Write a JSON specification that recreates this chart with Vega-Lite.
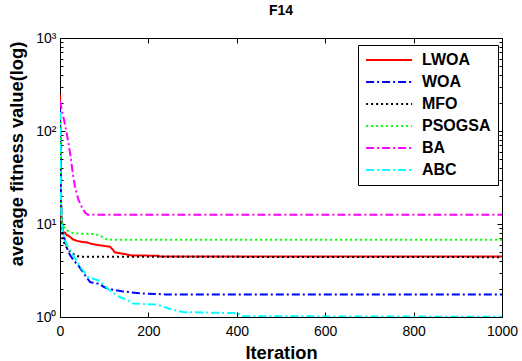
{
  "$schema": "https://vega.github.io/schema/vega-lite/v6.json",
  "autosize": "none",
  "width": 442,
  "height": 279,
  "padding": {"left": 60, "top": 38, "right": 20, "bottom": 44},
  "background": "white",
  "config": {
    "font": "Liberation Sans",
    "view": {"stroke": "black", "strokeWidth": 1},
    "axis": {"grid": false, "domainColor": "black", "tickColor": "black", "labelColor": "black", "titleColor": "black", "labelFont": "Liberation Sans", "titleFont": "Liberation Sans"}
  },
  "title": {"text": "F14", "fontSize": 14, "fontWeight": "bold", "font": "Liberation Sans", "offset": 13, "color": "black"},
  "data": {"values": [
    {"it": 0, "v": 247, "algo": "LWOA"}, {"it": 1, "v": 60, "algo": "LWOA"}, {"it": 2, "v": 20, "algo": "LWOA"}, {"it": 3, "v": 12, "algo": "LWOA"}, {"it": 5, "v": 9, "algo": "LWOA"}, {"it": 7, "v": 8.2, "algo": "LWOA"}, {"it": 11, "v": 8.1, "algo": "LWOA"}, {"it": 15, "v": 7.6, "algo": "LWOA"}, {"it": 19, "v": 7.5, "algo": "LWOA"}, {"it": 30, "v": 6.8, "algo": "LWOA"}, {"it": 38, "v": 6.6, "algo": "LWOA"}, {"it": 50, "v": 6.4, "algo": "LWOA"}, {"it": 60, "v": 6.35, "algo": "LWOA"}, {"it": 72, "v": 6.1, "algo": "LWOA"}, {"it": 90, "v": 5.9, "algo": "LWOA"}, {"it": 113, "v": 5.7, "algo": "LWOA"}, {"it": 118, "v": 5.4, "algo": "LWOA"}, {"it": 124, "v": 4.95, "algo": "LWOA"}, {"it": 147, "v": 4.75, "algo": "LWOA"}, {"it": 160, "v": 4.6, "algo": "LWOA"}, {"it": 222, "v": 4.55, "algo": "LWOA"}, {"it": 226, "v": 4.48, "algo": "LWOA"}, {"it": 1000, "v": 4.48, "algo": "LWOA"},
    {"it": 0, "v": 170, "algo": "WOA"}, {"it": 1, "v": 50, "algo": "WOA"}, {"it": 2, "v": 20, "algo": "WOA"}, {"it": 4, "v": 11, "algo": "WOA"}, {"it": 7, "v": 8, "algo": "WOA"}, {"it": 15, "v": 5.6, "algo": "WOA"}, {"it": 23, "v": 4.6, "algo": "WOA"}, {"it": 32, "v": 4, "algo": "WOA"}, {"it": 41, "v": 3.6, "algo": "WOA"}, {"it": 57, "v": 2.8, "algo": "WOA"}, {"it": 68, "v": 2.37, "algo": "WOA"}, {"it": 87, "v": 2.28, "algo": "WOA"}, {"it": 100, "v": 2.1, "algo": "WOA"}, {"it": 109, "v": 2.01, "algo": "WOA"}, {"it": 140, "v": 1.89, "algo": "WOA"}, {"it": 180, "v": 1.8, "algo": "WOA"}, {"it": 238, "v": 1.75, "algo": "WOA"}, {"it": 1000, "v": 1.75, "algo": "WOA"},
    {"it": 0, "v": 180, "algo": "MFO"}, {"it": 1, "v": 40, "algo": "MFO"}, {"it": 2, "v": 15, "algo": "MFO"}, {"it": 4, "v": 8, "algo": "MFO"}, {"it": 7, "v": 6.6, "algo": "MFO"}, {"it": 15, "v": 5.6, "algo": "MFO"}, {"it": 22, "v": 5.1, "algo": "MFO"}, {"it": 34, "v": 4.6, "algo": "MFO"}, {"it": 45, "v": 4.45, "algo": "MFO"}, {"it": 1000, "v": 4.4, "algo": "MFO"},
    {"it": 0, "v": 160, "algo": "PSOGSA"}, {"it": 1, "v": 40, "algo": "PSOGSA"}, {"it": 2, "v": 18, "algo": "PSOGSA"}, {"it": 4, "v": 11, "algo": "PSOGSA"}, {"it": 7, "v": 9.5, "algo": "PSOGSA"}, {"it": 15, "v": 8.6, "algo": "PSOGSA"}, {"it": 25, "v": 8.1, "algo": "PSOGSA"}, {"it": 34, "v": 7.9, "algo": "PSOGSA"}, {"it": 79, "v": 7.8, "algo": "PSOGSA"}, {"it": 93, "v": 7.4, "algo": "PSOGSA"}, {"it": 103, "v": 6.9, "algo": "PSOGSA"}, {"it": 120, "v": 6.76, "algo": "PSOGSA"}, {"it": 1000, "v": 6.76, "algo": "PSOGSA"},
    {"it": 0, "v": 210, "algo": "BA"}, {"it": 5, "v": 160, "algo": "BA"}, {"it": 11, "v": 120, "algo": "BA"}, {"it": 17, "v": 85, "algo": "BA"}, {"it": 23, "v": 57, "algo": "BA"}, {"it": 29, "v": 35, "algo": "BA"}, {"it": 34, "v": 25, "algo": "BA"}, {"it": 42, "v": 18, "algo": "BA"}, {"it": 50, "v": 15, "algo": "BA"}, {"it": 57, "v": 13.2, "algo": "BA"}, {"it": 63, "v": 12.6, "algo": "BA"}, {"it": 1000, "v": 12.6, "algo": "BA"},
    {"it": 0, "v": 160, "algo": "ABC"}, {"it": 1, "v": 45, "algo": "ABC"}, {"it": 2, "v": 18, "algo": "ABC"}, {"it": 4, "v": 10, "algo": "ABC"}, {"it": 7, "v": 8, "algo": "ABC"}, {"it": 12, "v": 6.5, "algo": "ABC"}, {"it": 19, "v": 5.6, "algo": "ABC"}, {"it": 34, "v": 4.25, "algo": "ABC"}, {"it": 49, "v": 3.3, "algo": "ABC"}, {"it": 64, "v": 2.68, "algo": "ABC"}, {"it": 87, "v": 2.47, "algo": "ABC"}, {"it": 100, "v": 2.2, "algo": "ABC"}, {"it": 113, "v": 1.93, "algo": "ABC"}, {"it": 136, "v": 1.63, "algo": "ABC"}, {"it": 150, "v": 1.55, "algo": "ABC"}, {"it": 166, "v": 1.4, "algo": "ABC"}, {"it": 219, "v": 1.36, "algo": "ABC"}, {"it": 249, "v": 1.22, "algo": "ABC"}, {"it": 264, "v": 1.17, "algo": "ABC"}, {"it": 279, "v": 1.13, "algo": "ABC"}, {"it": 400, "v": 1.1, "algo": "ABC"}, {"it": 415, "v": 1.02, "algo": "ABC"}, {"it": 1000, "v": 1.005, "algo": "ABC"}
  ]},
  "layer": [
    {
      "mark": {"type": "line", "strokeWidth": 2, "clip": true},
      "encoding": {
        "x": {"field": "it", "type": "quantitative", "scale": {"domain": [0, 1000], "nice": false},
          "axis": {"orient": "bottom", "title": "Iteration", "titleFontSize": 18.3, "titleFontWeight": "bold", "titlePadding": 6, "labelFontSize": 14, "labelPadding": 12, "values": [0, 200, 400, 600, 800, 1000], "format": "d", "tickSize": -5, "domain": false, "labelFlush": false}},
        "y": {"field": "v", "type": "quantitative", "scale": {"type": "log", "domain": [1, 1000], "nice": false},
          "axis": {"orient": "left", "title": "average fitness value(log)", "titleFontSize": 18.3, "titleFontWeight": "bold", "titleX": -37.5, "titleY": 115.5, "titleBaseline": "alphabetic", "titleAngle": 270, "labelFontSize": 14, "labelPadding": 9, "domain": false, "labelOverlap": false, "labelFlush": false,
            "values": [1, 2, 3, 4, 5, 6, 7, 8, 9, 10, 20, 30, 40, 50, 60, 70, 80, 90, 100, 200, 300, 400, 500, 600, 700, 800, 900, 1000],
            "labelExpr": "datum.value == 1 ? '10⁰' : datum.value == 10 ? '10¹' : datum.value == 100 ? '10²' : datum.value == 1000 ? '10³' : ''",
            "tickSize": {"condition": {"test": "indexof([1,10,100,1000], datum.value) >= 0", "value": -5}, "value": -3}}},
        "color": {"field": "algo", "type": "nominal",
          "scale": {"domain": ["LWOA", "WOA", "MFO", "PSOGSA", "BA", "ABC"], "range": ["#ff0000", "#0000ff", "#000000", "#00ff00", "#ff00ff", "#00ffff"]},
          "legend": {"title": null, "orient": "none", "legendX": 298, "legendY": 7, "strokeColor": "black", "fillColor": "white", "padding": 7, "symbolType": "M-1.2,0H6.8", "symbolSize": 132, "symbolStrokeWidth": 2, "labelFontSize": 16, "labelFontWeight": "bold", "labelFont": "Liberation Sans", "labelColor": "black", "labelOffset": 41, "rowPadding": 6, "cornerRadius": 0}},
        "strokeDash": {"field": "algo", "type": "nominal",
          "scale": {"domain": ["LWOA", "WOA", "MFO", "PSOGSA", "BA", "ABC"], "range": [[1, 0], [8, 3, 2, 3], [2, 3], [2, 3], [8, 3, 2, 3], [8, 3, 2, 3]]}},
        "order": {"field": "it", "type": "quantitative"}
      }
    },
    {
      "mark": {"type": "line", "opacity": 0},
      "encoding": {
        "x": {"field": "it", "type": "quantitative", "scale": {"domain": [0, 1000], "nice": false},
          "axis": {"orient": "top", "title": null, "labels": false, "values": [0, 200, 400, 600, 800, 1000], "tickSize": -5, "domain": false}},
        "y": {"field": "v", "type": "quantitative", "scale": {"type": "log", "domain": [1, 1000], "nice": false},
          "axis": {"orient": "right", "title": null, "labels": false, "domain": false,
            "values": [1, 2, 3, 4, 5, 6, 7, 8, 9, 10, 20, 30, 40, 50, 60, 70, 80, 90, 100, 200, 300, 400, 500, 600, 700, 800, 900, 1000],
            "tickSize": {"condition": {"test": "indexof([1,10,100,1000], datum.value) >= 0", "value": -5}, "value": -3}}},
        "detail": {"field": "algo", "type": "nominal"}
      }
    }
  ],
  "resolve": {"axis": {"x": "independent", "y": "independent"}}
}
